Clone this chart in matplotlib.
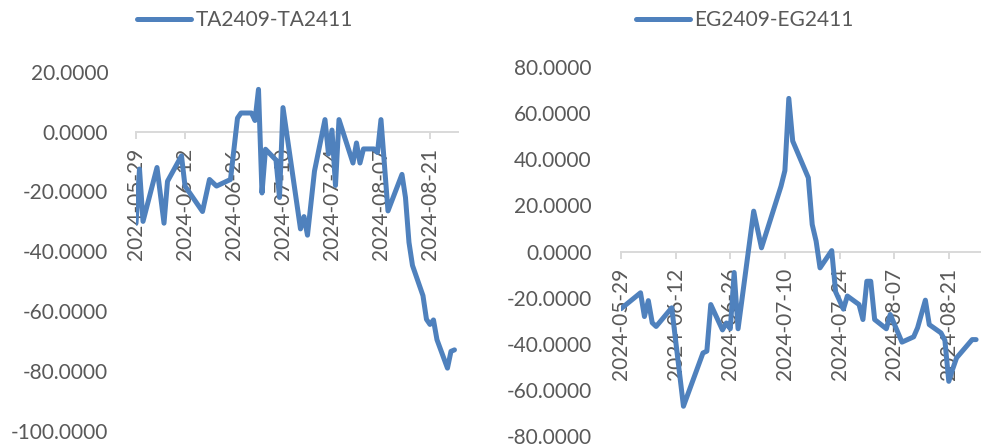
import pandas as pd
import matplotlib
matplotlib.use("Agg")
import matplotlib.pyplot as plt
import matplotlib.dates as mdates
from matplotlib.ticker import FormatStrFormatter

plt.rcParams["font.family"] = ["Lato", "DejaVu Sans"]
plt.rcParams["axes.unicode_minus"] = False

# TA2409-TA2411 spread
ta_dates = [
    "2024-05-29", "2024-05-30", "2024-05-31", "2024-06-04", "2024-06-06",
    "2024-06-07", "2024-06-11", "2024-06-12", "2024-06-17", "2024-06-19",
    "2024-06-21", "2024-06-25", "2024-06-27", "2024-06-28", "2024-07-01",
    "2024-07-02", "2024-07-03", "2024-07-04", "2024-07-05", "2024-07-08",
    "2024-07-09", "2024-07-10", "2024-07-15", "2024-07-16", "2024-07-17",
    "2024-07-19", "2024-07-22", "2024-07-23", "2024-07-24", "2024-07-25",
    "2024-07-26", "2024-07-30", "2024-07-31", "2024-08-01", "2024-08-02",
    "2024-08-05", "2024-08-06", "2024-08-07", "2024-08-09", "2024-08-13",
    "2024-08-14", "2024-08-15", "2024-08-16", "2024-08-19", "2024-08-20",
    "2024-08-21", "2024-08-22", "2024-08-23", "2024-08-26", "2024-08-27",
    "2024-08-28",
]
ta_values = [
    -30.6, -12.5, -30.0, -12.0, -30.6,
    -16.6, -8.1, -18.2, -26.7, -16.0,
    -18.2, -16.0, 4.5, 6.2, 6.2,
    3.7, 14.1, -20.5, -5.9, -9.5,
    -22.0, 8.0, -32.5, -28.4, -34.6,
    -13.2, 4.0, -7.5, 0.5, -18.0,
    4.0, -10.5, -3.8, -10.5, -5.8,
    -5.8, -7.0, 4.0, -26.5, -14.3,
    -22.0, -37.0, -44.7, -54.8, -62.7,
    -64.4, -62.9, -69.5, -79.0, -73.4,
    -72.9,
]

# EG2409-EG2411 spread
eg_dates = [
    "2024-05-29", "2024-06-03", "2024-06-04", "2024-06-05", "2024-06-06",
    "2024-06-07", "2024-06-11", "2024-06-14", "2024-06-19", "2024-06-20",
    "2024-06-21", "2024-06-24", "2024-06-25", "2024-06-26", "2024-06-27",
    "2024-06-28", "2024-07-02", "2024-07-04", "2024-07-09", "2024-07-10",
    "2024-07-11", "2024-07-12", "2024-07-16", "2024-07-17", "2024-07-18",
    "2024-07-19", "2024-07-22", "2024-07-23", "2024-07-25", "2024-07-26",
    "2024-07-29", "2024-07-30", "2024-07-31", "2024-08-01", "2024-08-02",
    "2024-08-05", "2024-08-06", "2024-08-09", "2024-08-12", "2024-08-13",
    "2024-08-15", "2024-08-16", "2024-08-19", "2024-08-20", "2024-08-21",
    "2024-08-22", "2024-08-23", "2024-08-27", "2024-08-28",
]
eg_values = [
    -24.8, -17.9, -28.2, -21.3, -30.9,
    -32.5, -24.4, -67.1, -44.0, -43.2,
    -23.0, -34.0, -31.0, -33.5, -9.1,
    -33.5, 17.5, 1.6, 28.3, 35.1,
    66.4, 47.9, 32.0, 11.7, 4.5,
    -7.1, 0.4, -17.5, -25.0, -19.3,
    -23.0, -29.5, -12.9, -12.9, -29.5,
    -33.5, -27.3, -39.3, -37.0, -33.1,
    -21.1, -31.7, -35.3, -38.5, -56.3,
    -51.0, -46.1, -38.2, -38.2,
]

tick_dates = ["2024-05-29", "2024-06-12", "2024-06-26", "2024-07-10",
              "2024-07-24", "2024-08-07", "2024-08-21"]
x_start, x_end = "2024-05-29", "2024-08-29"

line_color = "#4F81BD"
text_color = "#595959"
axis_color = "#D9D9D9"

fig = plt.figure(figsize=(9.87, 4.48), dpi=100)
ax1 = fig.add_axes([0.1378, 0.0379, 0.3262, 0.8021])
ax2 = fig.add_axes([0.6292, 0.0268, 0.3637, 0.8236])


def style_axis(ax, dates, values, label, ylim, yticks, ypad):
    ax.plot(pd.to_datetime(dates), values, color=line_color, lw=3.6,
            solid_joinstyle="round", solid_capstyle="round", label=label)
    ax.set_xlim(pd.Timestamp(x_start), pd.Timestamp(x_end))
    ax.set_ylim(*ylim)
    ax.set_yticks(yticks)
    ax.yaxis.set_major_formatter(FormatStrFormatter("%.4f"))
    ax.set_xticks(pd.to_datetime(tick_dates))
    ax.xaxis.set_major_formatter(mdates.DateFormatter("%Y-%m-%d"))
    for side in ["top", "right", "left"]:
        ax.spines[side].set_visible(False)
    ax.spines["bottom"].set_position(("data", 0))
    ax.spines["bottom"].set_color(axis_color)
    ax.spines["bottom"].set_linewidth(1.4)
    ax.spines["bottom"].set_zorder(0)
    ax.tick_params(axis="x", direction="out", length=5, width=1.4,
                   color=axis_color, labelcolor=text_color, labelsize=15,
                   pad=7, labelrotation=90)
    ax.tick_params(axis="y", length=0, labelcolor=text_color, labelsize=15,
                   pad=ypad)
    ax.set_facecolor("none")
    ax.patch.set_visible(False)


style_axis(ax1, ta_dates, ta_values, "TA2409-TA2411", (-100, 20),
           range(-100, 21, 20), 20)
style_axis(ax2, eg_dates, eg_values, "EG2409-EG2411", (-80, 80),
           range(-80, 81, 20), 21)

for ax, x0 in [(ax1, 137), (ax2, 636)]:
    ax.legend(loc="center left", bbox_to_anchor=(x0 / 987, 1 - 20 / 448),
              bbox_transform=fig.transFigure, frameon=False, borderpad=0,
              borderaxespad=0, handlelength=2.6, handletextpad=0.2,
              prop={"size": 15}, labelcolor=text_color)

fig.savefig("out.png", dpi=100)
